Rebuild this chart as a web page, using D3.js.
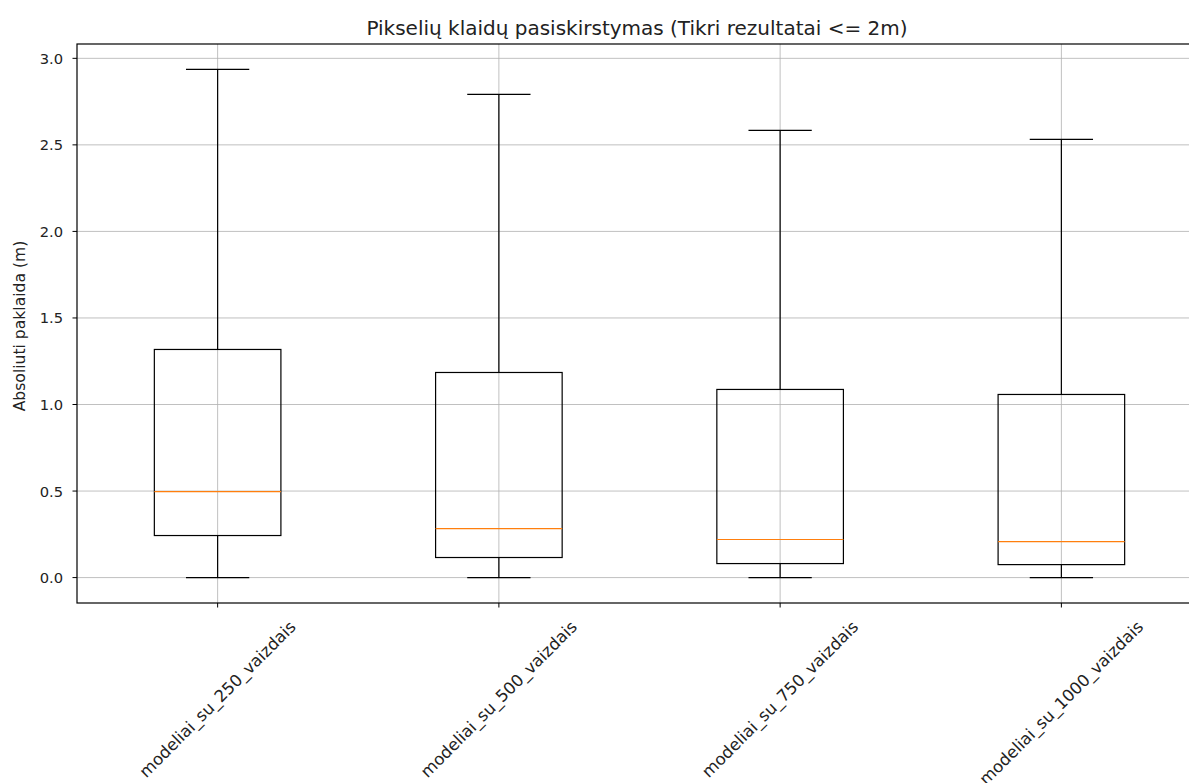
<!DOCTYPE html>
<html lang="en">
<head>
<meta charset="UTF-8">
<title>Pikselių klaidų pasiskirstymas</title>
<script src="https://d3js.org/d3.v7.min.js"></script>
<style>
  body { margin: 0; background: #fff; }
  svg text { font-family: "DejaVu Sans", sans-serif; fill: #222; }
</style>
</head>
<body>
<svg id="chart" width="1189" height="783"></svg>
<script>
// data
const categories = ["modeliai_su_250_vaizdais", "modeliai_su_500_vaizdais", "modeliai_su_750_vaizdais", "modeliai_su_1000_vaizdais"];
const whiskerLow = [0, 0, 0, 0];
const q1 = [0.243, 0.116, 0.081, 0.075];
const median = [0.497, 0.283, 0.220, 0.208];
const q3 = [1.318, 1.185, 1.087, 1.058];
const whiskerHigh = [2.936, 2.792, 2.584, 2.532];
const yTicks = [0.0, 0.5, 1.0, 1.5, 2.0, 2.5, 3.0];

const svg = d3.select("#chart");
const axLeft = 77, axRight = 1202, axTop = 44, axBottom = 603;

const x = d3.scaleLinear().domain([0.5, 4.5]).range([axLeft, axRight]);
const y = d3.scaleLinear().domain([-0.1468, 3.0828]).range([axBottom, axTop]);

const g = svg.append("g");

// grid
g.selectAll(".hgrid").data(yTicks).enter().append("line")
    .attr("x1", axLeft).attr("x2", axRight)
    .attr("y1", d => y(d)).attr("y2", d => y(d))
    .attr("stroke", "#b0b0b0").attr("stroke-width", 0.8);
g.selectAll(".vgrid").data(categories).enter().append("line")
    .attr("x1", (d, i) => x(i + 1)).attr("x2", (d, i) => x(i + 1))
    .attr("y1", axTop).attr("y2", axBottom)
    .attr("stroke", "#b0b0b0").attr("stroke-width", 0.8);

// boxes
const boxW = 0.45, capW = 0.225;
categories.forEach((c, i) => {
    const p = i + 1;
    const bx = g.append("g");
    bx.append("line").attr("x1", x(p)).attr("x2", x(p))
        .attr("y1", y(q3[i])).attr("y2", y(whiskerHigh[i]))
        .attr("stroke", "#000").attr("stroke-width", 1.2);
    bx.append("line").attr("x1", x(p)).attr("x2", x(p))
        .attr("y1", y(q1[i])).attr("y2", y(whiskerLow[i]))
        .attr("stroke", "#000").attr("stroke-width", 1.2);
    bx.append("line").attr("x1", x(p - capW / 2)).attr("x2", x(p + capW / 2))
        .attr("y1", y(whiskerHigh[i])).attr("y2", y(whiskerHigh[i]))
        .attr("stroke", "#000").attr("stroke-width", 1.2);
    bx.append("line").attr("x1", x(p - capW / 2)).attr("x2", x(p + capW / 2))
        .attr("y1", y(whiskerLow[i])).attr("y2", y(whiskerLow[i]))
        .attr("stroke", "#000").attr("stroke-width", 1.2);
    bx.append("rect")
        .attr("x", x(p - boxW / 2)).attr("width", x(p + boxW / 2) - x(p - boxW / 2))
        .attr("y", y(q3[i])).attr("height", y(q1[i]) - y(q3[i]))
        .attr("fill", "none").attr("stroke", "#000").attr("stroke-width", 1.2);
    bx.append("line").attr("x1", x(p - boxW / 2)).attr("x2", x(p + boxW / 2))
        .attr("y1", y(median[i])).attr("y2", y(median[i]))
        .attr("stroke", "#ff7f0e").attr("stroke-width", 1.2);
});

// spines (right one is off-canvas)
g.append("rect").attr("x", axLeft).attr("y", axTop)
    .attr("width", axRight - axLeft).attr("height", axBottom - axTop)
    .attr("fill", "none").attr("stroke", "#000").attr("stroke-width", 1.2);

// y axis ticks
g.selectAll(".ytick").data(yTicks).enter().append("line")
    .attr("x1", axLeft - 4.5).attr("x2", axLeft)
    .attr("y1", d => y(d)).attr("y2", d => y(d))
    .attr("stroke", "#000").attr("stroke-width", 1);
g.selectAll(".ylab").data(yTicks).enter().append("text")
    .attr("x", axLeft - 14).attr("y", d => y(d))
    .attr("text-anchor", "end").attr("dominant-baseline", "central")
    .style("font-size", "14.7px")
    .text(d => d.toFixed(1));

// x axis ticks
g.selectAll(".xtick").data(categories).enter().append("line")
    .attr("x1", (d, i) => x(i + 1)).attr("x2", (d, i) => x(i + 1))
    .attr("y1", axBottom).attr("y2", axBottom + 4.5)
    .attr("stroke", "#000").attr("stroke-width", 1);
categories.forEach((c, i) => {
    const t = g.append("text")
        .attr("text-anchor", "middle").attr("dominant-baseline", "central")
        .style("font-size", "16.5px")
        .text(c);
    const L = t.node().getComputedTextLength();
    const h = 17;
    const H = (L + h) / Math.SQRT2;
    const cx = x(i + 1), cy = axBottom + 15 + H / 2;
    t.attr("transform", `translate(${cx},${cy}) rotate(-45)`);
});

// labels
svg.append("text").attr("x", 637).attr("y", 35)
    .attr("text-anchor", "middle").style("font-size", "20px")
    .text("Pikselių klaidų pasiskirstymas (Tikri rezultatai <= 2m)");
svg.append("text")
    .attr("transform", `translate(20,326) rotate(-90)`)
    .attr("text-anchor", "middle").attr("dominant-baseline", "central")
    .style("font-size", "15.6px")
    .text("Absoliuti paklaida (m)");
</script>
</body>
</html>
